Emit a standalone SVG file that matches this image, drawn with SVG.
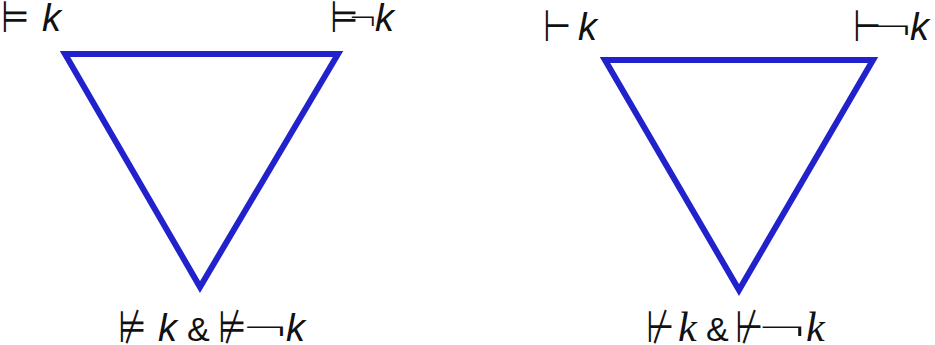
<svg xmlns="http://www.w3.org/2000/svg" width="935" height="345" viewBox="0 0 935 345">
<style>
.tri{fill:none;stroke:#2222cc;stroke-width:6;stroke-linejoin:miter}
.sym{font-family:"DejaVu Sans",sans-serif;font-size:44px;fill:#111}
.neg{font-family:"DejaVu Sans",sans-serif;font-weight:200;font-size:38px;fill:#111}
.k{font-family:"Liberation Sans",Arial,sans-serif;font-style:italic;font-size:38px;fill:#111}
.ks{font-family:"Liberation Serif","Times New Roman",serif;font-style:italic;font-size:42px;fill:#111}
.amp{font-family:"Liberation Sans",Arial,sans-serif;font-size:34px;fill:#111}
</style>
<rect width="935" height="345" fill="#fff"/>
<g id="connectors">
<polygon id="triangle-left" class="tri" points="65,54 338,54 200,287"/>
<polygon id="triangle-right" class="tri" points="605,60 873,60 739,290"/>
</g>
<g id="node-left-topleft">
<text class="sym" x="1" y="32" textLength="28" lengthAdjust="spacingAndGlyphs">⊨</text>
<text class="k" x="42" y="31">k</text>
</g>
<g id="node-left-topright">
<text class="sym" x="330" y="32" textLength="28" lengthAdjust="spacingAndGlyphs">⊨</text>
<text class="neg" x="348" y="31" textLength="30" lengthAdjust="spacingAndGlyphs">¬</text>
<text class="k" x="375" y="31">k</text>
</g>
<g id="node-left-bottom">
<text class="sym" x="118" y="342" textLength="28" lengthAdjust="spacingAndGlyphs">⊭</text>
<text class="k" x="158" y="341">k</text>
<text class="amp" x="187" y="341">&amp;</text>
<text class="sym" x="218" y="342" textLength="28" lengthAdjust="spacingAndGlyphs">⊭</text>
<text class="neg" x="241" y="341" textLength="49" lengthAdjust="spacingAndGlyphs">¬</text>
<text class="k" x="286" y="341">k</text>
</g>
<g id="node-right-topleft">
<text class="sym" x="543" y="41" textLength="28" lengthAdjust="spacingAndGlyphs">⊢</text>
<text class="k" x="578" y="40">k</text>
</g>
<g id="node-right-topright">
<text class="sym" x="853" y="41" textLength="28" lengthAdjust="spacingAndGlyphs">⊢</text>
<text class="neg" x="871" y="40" textLength="43" lengthAdjust="spacingAndGlyphs">¬</text>
<text class="k" x="910" y="40">k</text>
</g>
<g id="node-right-bottom">
<text class="sym" x="646" y="342" textLength="28" lengthAdjust="spacingAndGlyphs">⊬</text>
<text class="ks" x="678" y="341">k</text>
<text class="amp" x="706" y="341">&amp;</text>
<text class="sym" x="735" y="342" textLength="28" lengthAdjust="spacingAndGlyphs">⊬</text>
<text class="neg" x="756" y="341" textLength="53" lengthAdjust="spacingAndGlyphs">¬</text>
<text class="ks" x="806" y="341" font-size="46">k</text>
</g>
</svg>
